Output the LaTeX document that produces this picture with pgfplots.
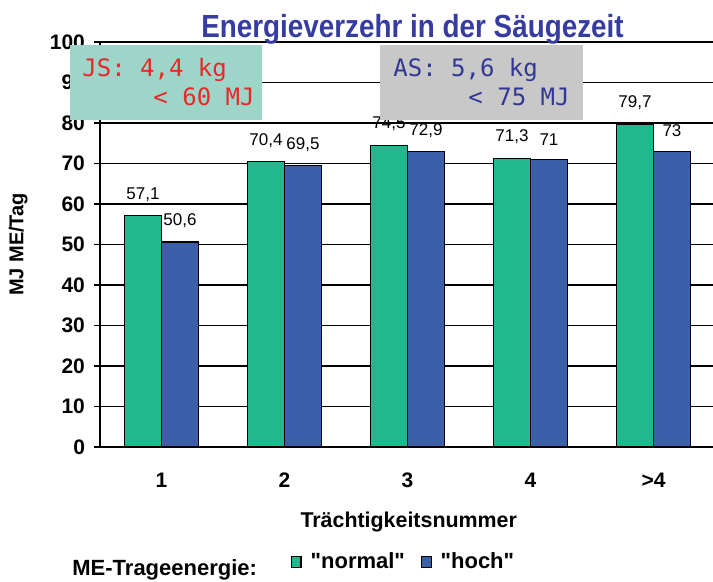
\documentclass[border=0pt]{standalone}
\usepackage{fontspec}
\setmainfont{Liberation Sans}
\setmonofont{DejaVu Sans Mono}
\newfontfamily\titlefont[FakeStretch=0.87]{Liberation Sans}
\usepackage{pgfplots}
\pgfplotsset{compat=1.18}
\definecolor{barg}{RGB}{32,184,140}
\definecolor{barb}{RGB}{60,95,170}
\definecolor{tealbox}{RGB}{157,213,201}
\definecolor{graybox}{RGB}{200,200,200}
\definecolor{titleblue}{RGB}{55,60,160}
\definecolor{jsred}{RGB}{235,40,40}
\definecolor{asblue}{RGB}{50,55,150}
\begin{document}
\begin{tikzpicture}[x=1pt,y=1pt]
\useasboundingbox (0,0) rectangle (356.5,291);
\begin{axis}[
  at={(50pt,67.5pt)}, anchor=south west,
  scale only axis, width=307.5pt, height=202.5pt,
  xmin=-0.5, xmax=4.5, ymin=0, ymax=100,
  ybar=0pt, bar width=18.5pt,
  axis x line*=bottom, axis y line*=left,
  axis line style={black, line width=0.6pt},
  ytick={0,10,...,100},
  ymajorgrids, major grid style={black, line width=0.6pt},
  xtick={0,1,2,3,4}, xticklabels={1,2,3,4,>4},
  x tick style={draw=none},
  extra x ticks={-0.5,0.5,1.5,2.5,3.5,4.5},
  extra x tick labels={},
  extra x tick style={grid=none, tick style={draw=black, line width=0.6pt}, major tick length=4pt, tick align=outside},
  y tick style={black, line width=0.6pt}, major tick length=3pt, tick align=outside,
  /pgf/number format/assume math mode=true,
  x tick label style={font=\bfseries\fontsize{10.5}{12}\selectfont, yshift=-6.5pt},
  y tick label style={font=\bfseries\fontsize{10.5}{12}\selectfont, xshift=-1pt},
  xlabel={Trächtigkeitsnummer},
  xlabel style={font=\bfseries\fontsize{10.7}{12}\selectfont, at={(axis description cs:0.502,-0.184)}, anchor=center},
  ylabel={MJ ME/Tag},
  ylabel style={font=\bfseries\fontsize{10}{12}\selectfont, at={(axis description cs:-0.133,0.5)}, anchor=center},
  nodes near coords,
  nodes near coords style={font=\fontsize{8.5}{10}\selectfont, anchor=south, yshift=3.5pt, /pgf/number format/use comma},
  legend style={at={(axis description cs:0.300,-0.284)}, anchor=west, draw=none, fill=none, legend columns=2,
    font=\bfseries\fontsize{11}{13}\selectfont, /tikz/every even column/.append style={column sep=6pt},
    /tikz/every odd column/.append style={column sep=2.5pt}},
  legend image code/.code={\draw[#1, draw=black, line width=0.6pt] (0pt,-2.8pt) rectangle (4.8pt,2.8pt);},
]
\addplot[fill=barg, draw=black, line width=0.6pt] coordinates {(0,57.1) (1,70.4) (2,74.5) (3,71.3) (4,79.7)};
\addplot[fill=barb, draw=black, line width=0.6pt] coordinates {(0,50.6) (1,69.5) (2,72.9) (3,71) (4,73)};
\legend{\textquotedbl normal\textquotedbl, \textquotedbl hoch\textquotedbl}
\end{axis}
\fill[tealbox] (35,231) rectangle (131,268.5);
\fill[graybox] (190,231) rectangle (291.5,268.5);
\node[anchor=west, text=jsred, font=\ttfamily\fontsize{12}{14}\selectfont, inner sep=0pt] at (41,256) {JS: 4,4 kg};
\node[anchor=east, text=jsred, font=\ttfamily\fontsize{12}{14}\selectfont, inner sep=0pt] at (127.5,242.5) {< 60 MJ};
\node[anchor=west, text=asblue, font=\ttfamily\fontsize{12}{14}\selectfont, inner sep=0pt] at (196.5,256) {AS: 5,6 kg};
\node[anchor=east, text=asblue, font=\ttfamily\fontsize{12}{14}\selectfont, inner sep=0pt] at (285,242.5) {< 75 MJ};
\node[anchor=base, text=titleblue, font=\titlefont\bfseries\fontsize{16}{18}\selectfont, inner sep=0pt] at (206.25,272) {Energieverzehr in der Säugezeit};
\node[anchor=base west, font=\bfseries\fontsize{11}{13}\selectfont, inner sep=0pt] at (36,3.2) {ME-Trageenergie:};
\end{tikzpicture}
\end{document}
